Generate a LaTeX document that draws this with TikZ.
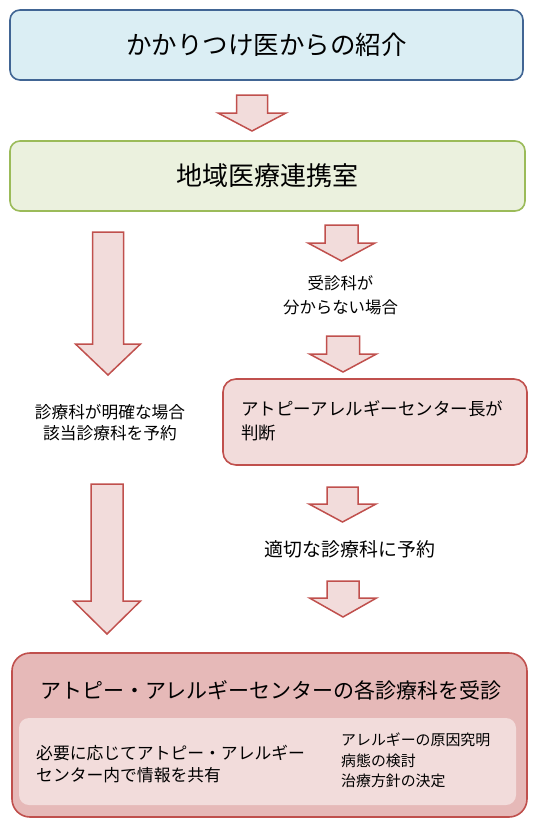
\documentclass[tikz,border=0pt]{standalone}
\usepackage{fontspec}
\setmainfont{Noto Sans CJK JP}
\definecolor{blueFill}{HTML}{DBEEF4}
\definecolor{blueLine}{HTML}{416594}
\definecolor{greenFill}{HTML}{EBF1DE}
\definecolor{greenLine}{HTML}{9BBB59}
\definecolor{pinkFill}{HTML}{F2DCDB}
\definecolor{redLine}{HTML}{C0504D}
\definecolor{bigFill}{HTML}{E6B9B8}
\newcommand\blockarrow[7]{% name, cx, top, shaft half, head half, head top, tip
  \draw[arrowsty] ({#2-#4},#3) coordinate (#1) -- ({#2+#4},#3) -- ({#2+#4},#6) -- ({#2+#5},#6)
    -- (#2,#7) -- ({#2-#5},#6) -- ({#2-#4},#6) -- cycle;}
\begin{document}
\begin{tikzpicture}[x=1pt,y=-1pt,
  box/.style={draw, line width=1.6pt, rounded corners=10pt, inner sep=0pt, text=black},
  arrowsty/.style={draw=redLine, fill=pinkFill, line width=1.5pt, line join=miter},
  txt/.style={inner sep=0pt, text=black}]
\useasboundingbox (0,0) rectangle (534,830);

% top boxes
\node[box, draw=blueLine, fill=blueFill, minimum width=513pt, minimum height=70pt,
      font={\fontsize{25.5}{30}\selectfont}] (ref) at (266.5,45) {かかりつけ医からの紹介};
\node[box, draw=greenLine, fill=greenFill, minimum width=515pt, minimum height=70pt,
      font={\fontsize{26}{30}\selectfont}] (renkei) at (267.5,176) {地域医療連携室};

% judgement box
\node[box, draw=redLine, fill=pinkFill, rounded corners=13pt, minimum width=304pt, minimum height=86pt] (chief) at (375,422) {};
\node[txt, anchor=west, align=left, font={\fontsize{17.5}{24}\selectfont}] (chieftxt) at (241,421)
  {アトピーアレルギーセンター長が\\判断};

% final box
\node[box, draw=redLine, fill=bigFill, rounded corners=18pt, minimum width=515pt, minimum height=164pt] (center) at (269.5,735) {};
\node[txt, font={\fontsize{21}{26}\selectfont}] (centertitle) at (271,690) {アトピー・アレルギーセンターの各診療科を受診};
\node[draw=none, fill=pinkFill, rounded corners=10pt, minimum width=497pt, minimum height=87pt, inner sep=0pt] (inner) at (267.5,761.5) {};
\node[txt, anchor=west, align=left, font={\fontsize{16.8}{22}\selectfont}] (share) at (36,764)
  {必要に応じてアトピー・アレルギー\\センター内で情報を共有};
\node[txt, anchor=west, align=left, font={\fontsize{14.9}{20.5}\selectfont}] (tasks) at (341,760.5)
  {アレルギーの原因究明\\病態の検討\\治療方針の決定};

% labels
\node[txt, align=center, font={\fontsize{16.4}{24}\selectfont}] (unknown) at (340.5,295) {受診科が\\分からない場合};
\node[txt, align=center, font={\fontsize{16.7}{21.5}\selectfont}] (known) at (110,422.5) {診療科が明確な場合\\該当診療科を予約};
\node[txt, font={\fontsize{18.9}{24}\selectfont}] (appoint) at (350,549) {適切な診療科に予約};

% block arrows
\blockarrow{a1}{252}{95}{15.5}{34}{113}{131}
\blockarrow{l1}{108}{232}{15.5}{32.5}{344}{375}
\blockarrow{l2}{107}{484}{16}{33.5}{601}{634}
\blockarrow{r1}{341.5}{225}{16.5}{33.5}{243}{261}
\blockarrow{r2}{343}{336}{16.5}{33.5}{354}{372}
\blockarrow{r3}{342.5}{487}{15.5}{33.5}{504}{522}
\blockarrow{r4}{343}{581}{16}{33.5}{598}{617}
\end{tikzpicture}
\end{document}
